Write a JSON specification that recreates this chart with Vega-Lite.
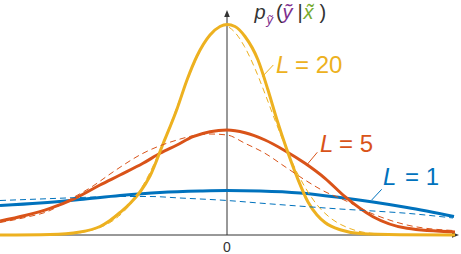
{
  "$schema": "https://vega.github.io/schema/vega-lite/v6.json",
  "width": 461,
  "height": 254,
  "autosize": {"type": "none"},
  "padding": 0,
  "background": "white",
  "config": {"view": {"stroke": null}},
  "datasets": {
    "curves": [
      {"series": "1", "kind": "exact", "x": -4.54, "y": 0.1475},
      {"series": "1", "kind": "exact", "x": -3.74, "y": 0.16},
      {"series": "1", "kind": "exact", "x": -2.94, "y": 0.1775},
      {"series": "1", "kind": "exact", "x": -2.14, "y": 0.1975},
      {"series": "1", "kind": "exact", "x": -1.34, "y": 0.2125},
      {"series": "1", "kind": "exact", "x": -0.54, "y": 0.22},
      {"series": "1", "kind": "exact", "x": 0, "y": 0.2225},
      {"series": "1", "kind": "exact", "x": 0.66, "y": 0.22},
      {"series": "1", "kind": "exact", "x": 1.46, "y": 0.21},
      {"series": "1", "kind": "exact", "x": 2.26, "y": 0.1875},
      {"series": "1", "kind": "exact", "x": 2.92, "y": 0.165},
      {"series": "1", "kind": "exact", "x": 3.6, "y": 0.1375},
      {"series": "1", "kind": "exact", "x": 4.54, "y": 0.0925},
      {"series": "5", "kind": "exact", "x": -4.54, "y": 0.07},
      {"series": "5", "kind": "exact", "x": -4.04, "y": 0.0975},
      {"series": "5", "kind": "exact", "x": -3.54, "y": 0.1335},
      {"series": "5", "kind": "exact", "x": -3.04, "y": 0.1835},
      {"series": "5", "kind": "exact", "x": -2.54, "y": 0.25},
      {"series": "5", "kind": "exact", "x": -2.14, "y": 0.3},
      {"series": "5", "kind": "exact", "x": -1.68, "y": 0.3585},
      {"series": "5", "kind": "exact", "x": -1.34, "y": 0.4085},
      {"series": "5", "kind": "exact", "x": -1.0, "y": 0.45},
      {"series": "5", "kind": "exact", "x": -0.68, "y": 0.4915},
      {"series": "5", "kind": "exact", "x": -0.34, "y": 0.5165},
      {"series": "5", "kind": "exact", "x": 0, "y": 0.525},
      {"series": "5", "kind": "exact", "x": 0.36, "y": 0.5115},
      {"series": "5", "kind": "exact", "x": 0.76, "y": 0.475},
      {"series": "5", "kind": "exact", "x": 1.16, "y": 0.4215},
      {"series": "5", "kind": "exact", "x": 1.56, "y": 0.3585},
      {"series": "5", "kind": "exact", "x": 1.96, "y": 0.2835},
      {"series": "5", "kind": "exact", "x": 2.36, "y": 0.1915},
      {"series": "5", "kind": "exact", "x": 2.92, "y": 0.0915},
      {"series": "5", "kind": "exact", "x": 3.6, "y": 0.0335},
      {"series": "5", "kind": "exact", "x": 4.56, "y": 0.015},
      {"series": "20", "kind": "exact", "x": -4.54, "y": 0},
      {"series": "20", "kind": "exact", "x": -3.54, "y": 0.0025},
      {"series": "20", "kind": "exact", "x": -2.94, "y": 0.015},
      {"series": "20", "kind": "exact", "x": -2.54, "y": 0.0425},
      {"series": "20", "kind": "exact", "x": -2.34, "y": 0.0725},
      {"series": "20", "kind": "exact", "x": -2.14, "y": 0.1125},
      {"series": "20", "kind": "exact", "x": -1.94, "y": 0.1575},
      {"series": "20", "kind": "exact", "x": -1.74, "y": 0.215},
      {"series": "20", "kind": "exact", "x": -1.54, "y": 0.295},
      {"series": "20", "kind": "exact", "x": -1.28, "y": 0.455},
      {"series": "20", "kind": "exact", "x": -1.0, "y": 0.63},
      {"series": "20", "kind": "exact", "x": -0.8, "y": 0.775},
      {"series": "20", "kind": "exact", "x": -0.6, "y": 0.895},
      {"series": "20", "kind": "exact", "x": -0.34, "y": 1.0},
      {"series": "20", "kind": "exact", "x": -0.14, "y": 1.0425},
      {"series": "20", "kind": "exact", "x": 0, "y": 1.0525},
      {"series": "20", "kind": "exact", "x": 0.16, "y": 1.0425},
      {"series": "20", "kind": "exact", "x": 0.36, "y": 0.9925},
      {"series": "20", "kind": "exact", "x": 0.62, "y": 0.875},
      {"series": "20", "kind": "exact", "x": 0.82, "y": 0.725},
      {"series": "20", "kind": "exact", "x": 1.0, "y": 0.575},
      {"series": "20", "kind": "exact", "x": 1.2, "y": 0.425},
      {"series": "20", "kind": "exact", "x": 1.4, "y": 0.29},
      {"series": "20", "kind": "exact", "x": 1.62, "y": 0.165},
      {"series": "20", "kind": "exact", "x": 1.8, "y": 0.1},
      {"series": "20", "kind": "exact", "x": 1.96, "y": 0.0625},
      {"series": "20", "kind": "exact", "x": 2.28, "y": 0.025},
      {"series": "20", "kind": "exact", "x": 2.66, "y": 0.0075},
      {"series": "20", "kind": "exact", "x": 3.46, "y": 0.0015},
      {"series": "20", "kind": "exact", "x": 4.56, "y": 0},
      {"series": "1", "kind": "approx", "x": -4.54, "y": 0.1725},
      {"series": "1", "kind": "approx", "x": -3.74, "y": 0.18},
      {"series": "1", "kind": "approx", "x": -2.94, "y": 0.1875},
      {"series": "1", "kind": "approx", "x": -2.14, "y": 0.1925},
      {"series": "1", "kind": "approx", "x": -1.54, "y": 0.1925},
      {"series": "1", "kind": "approx", "x": -0.94, "y": 0.185},
      {"series": "1", "kind": "approx", "x": 0, "y": 0.1725},
      {"series": "1", "kind": "approx", "x": 0.76, "y": 0.1575},
      {"series": "1", "kind": "approx", "x": 1.56, "y": 0.1425},
      {"series": "1", "kind": "approx", "x": 2.26, "y": 0.13},
      {"series": "1", "kind": "approx", "x": 2.92, "y": 0.12},
      {"series": "1", "kind": "approx", "x": 3.6, "y": 0.1085},
      {"series": "1", "kind": "approx", "x": 4.52, "y": 0.085},
      {"series": "5", "kind": "approx", "x": -4.54, "y": 0.0625},
      {"series": "5", "kind": "approx", "x": -4.04, "y": 0.0875},
      {"series": "5", "kind": "approx", "x": -3.54, "y": 0.1225},
      {"series": "5", "kind": "approx", "x": -3.2, "y": 0.17},
      {"series": "5", "kind": "approx", "x": -2.68, "y": 0.245},
      {"series": "5", "kind": "approx", "x": -2.28, "y": 0.315},
      {"series": "5", "kind": "approx", "x": -1.68, "y": 0.4085},
      {"series": "5", "kind": "approx", "x": -1.0, "y": 0.475},
      {"series": "5", "kind": "approx", "x": -0.6, "y": 0.5},
      {"series": "5", "kind": "approx", "x": -0.34, "y": 0.505},
      {"series": "5", "kind": "approx", "x": 0, "y": 0.5},
      {"series": "5", "kind": "approx", "x": 0.36, "y": 0.4585},
      {"series": "5", "kind": "approx", "x": 0.76, "y": 0.4085},
      {"series": "5", "kind": "approx", "x": 1.16, "y": 0.3415},
      {"series": "5", "kind": "approx", "x": 1.56, "y": 0.275},
      {"series": "5", "kind": "approx", "x": 1.96, "y": 0.2165},
      {"series": "5", "kind": "approx", "x": 2.3, "y": 0.18},
      {"series": "5", "kind": "approx", "x": 2.92, "y": 0.105},
      {"series": "5", "kind": "approx", "x": 3.6, "y": 0.05},
      {"series": "5", "kind": "approx", "x": 4.52, "y": 0.0225},
      {"series": "20", "kind": "approx", "x": -4.54, "y": 0},
      {"series": "20", "kind": "approx", "x": -3.31, "y": 0.003},
      {"series": "20", "kind": "approx", "x": -2.59, "y": 0.033},
      {"series": "20", "kind": "approx", "x": -2.17, "y": 0.093},
      {"series": "20", "kind": "approx", "x": -1.96, "y": 0.145},
      {"series": "20", "kind": "approx", "x": -1.75, "y": 0.219},
      {"series": "20", "kind": "approx", "x": -1.54, "y": 0.313},
      {"series": "20", "kind": "approx", "x": -1.33, "y": 0.43},
      {"series": "20", "kind": "approx", "x": -1.12, "y": 0.561},
      {"series": "20", "kind": "approx", "x": -0.91, "y": 0.7},
      {"series": "20", "kind": "approx", "x": -0.7, "y": 0.832},
      {"series": "20", "kind": "approx", "x": -0.49, "y": 0.942},
      {"series": "20", "kind": "approx", "x": -0.28, "y": 1.018},
      {"series": "20", "kind": "approx", "x": -0.07, "y": 1.0475},
      {"series": "20", "kind": "approx", "x": 0.14, "y": 1.018},
      {"series": "20", "kind": "approx", "x": 0.35, "y": 0.942},
      {"series": "20", "kind": "approx", "x": 0.56, "y": 0.832},
      {"series": "20", "kind": "approx", "x": 0.77, "y": 0.7},
      {"series": "20", "kind": "approx", "x": 0.98, "y": 0.561},
      {"series": "20", "kind": "approx", "x": 1.19, "y": 0.43},
      {"series": "20", "kind": "approx", "x": 1.4, "y": 0.313},
      {"series": "20", "kind": "approx", "x": 1.61, "y": 0.219},
      {"series": "20", "kind": "approx", "x": 1.82, "y": 0.145},
      {"series": "20", "kind": "approx", "x": 2.03, "y": 0.093},
      {"series": "20", "kind": "approx", "x": 2.45, "y": 0.033},
      {"series": "20", "kind": "approx", "x": 2.87, "y": 0.009},
      {"series": "20", "kind": "approx", "x": 3.49, "y": 0.001},
      {"series": "20", "kind": "approx", "x": 4.52, "y": 0}
    ],
    "rules": [
      {"series": "axis", "x": -4.54, "y": 0, "x2": 4.5, "y2": 0},
      {"series": "axis", "x": 0, "y": 0, "x2": 0, "y2": 1.09},
      {"series": "20", "x": 0.706, "y": 0.7915, "x2": 0.926, "y2": 0.85},
      {"series": "5", "x": 1.594, "y": 0.35, "x2": 1.806, "y2": 0.4135},
      {"series": "1", "x": 2.894, "y": 0.175, "x2": 3.094, "y2": 0.2285}
    ],
    "arrows": [
      {"series": "axis", "dir": "right", "x": 4.64, "y": 0},
      {"series": "axis", "dir": "up", "x": 0, "y": 1.125}
    ],
    "labels": [
      {"series": "20", "part": "L", "t": "L", "x": 0.98, "y": 0.81},
      {"series": "20", "part": "eq", "t": "= 20", "x": 1.36, "y": 0.81},
      {"series": "5", "part": "L", "t": "L", "x": 1.86, "y": 0.4175},
      {"series": "5", "part": "eq", "t": "= 5", "x": 2.24, "y": 0.4175},
      {"series": "1", "part": "L", "t": "L", "x": 3.12, "y": 0.25},
      {"series": "1", "part": "eq", "t": "= 1", "x": 3.56, "y": 0.25}
    ],
    "math": [
      {"series": "axis", "part": "it", "t": "p", "x": 0.55, "y": 1.08},
      {"series": "ytilde", "part": "sub", "t": "ỹ", "x": 0.79, "y": 1.055},
      {"series": "axis", "part": "up", "t": "(", "x": 0.98, "y": 1.08},
      {"series": "ytilde", "part": "it", "t": "ỹ", "x": 1.11, "y": 1.08},
      {"series": "axis", "part": "up", "t": "|", "x": 1.41, "y": 1.08},
      {"series": "xtilde", "part": "it", "t": "x̃", "x": 1.53, "y": 1.08},
      {"series": "axis", "part": "up", "t": ")", "x": 1.85, "y": 1.08},
      {"series": "axis", "part": "tick", "t": "0", "x": 0, "y": -0.065}
    ]
  },
  "encoding": {
    "x": {"field": "x", "type": "quantitative", "scale": {"domain": [-4.54, 4.68], "nice": false, "zero": false}, "axis": null},
    "y": {"field": "y", "type": "quantitative", "scale": {"domain": [-0.095, 1.175], "nice": false, "zero": false}, "axis": null},
    "color": {"field": "series", "type": "nominal", "scale": {"domain": ["1", "5", "20", "axis", "ytilde", "xtilde"], "range": ["#0072BD", "#D95319", "#EDB120", "#333333", "#7E2F8E", "#77AC30"]}, "legend": null}
  },
  "layer": [
    {
      "data": {"name": "rules"},
      "mark": {"type": "rule", "strokeWidth": 1},
      "encoding": {"x2": {"field": "x2"}, "y2": {"field": "y2"}}
    },
    {
      "data": {"name": "arrows"},
      "mark": {"type": "point", "filled": true, "size": 196, "opacity": 1},
      "encoding": {"shape": {"field": "dir", "type": "nominal", "scale": {"domain": ["right", "up"], "range": ["M0,0L-1,-0.4L-1,0.4Z", "M0,0L-0.4,1L0.4,1Z"]}, "legend": null}}
    },
    {
      "data": {"name": "curves"},
      "transform": [{"filter": "datum.kind === 'exact'"}],
      "mark": {"type": "line", "strokeWidth": 3, "interpolate": "monotone"},
      "encoding": {"detail": {"field": "series"}}
    },
    {
      "data": {"name": "curves"},
      "transform": [{"filter": "datum.kind === 'approx'"}],
      "mark": {"type": "line", "strokeWidth": 1, "strokeDash": [6, 4], "interpolate": "monotone"},
      "encoding": {"detail": {"field": "series"}}
    },
    {
      "data": {"name": "labels"},
      "transform": [{"filter": "datum.part === 'L'"}],
      "mark": {"type": "text", "align": "left", "baseline": "alphabetic", "font": "Liberation Sans", "fontStyle": "italic", "fontSize": 24},
      "encoding": {"text": {"field": "t"}}
    },
    {
      "data": {"name": "labels"},
      "transform": [{"filter": "datum.part === 'eq'"}],
      "mark": {"type": "text", "align": "left", "baseline": "alphabetic", "font": "Liberation Sans", "fontSize": 24},
      "encoding": {"text": {"field": "t"}}
    },
    {
      "data": {"name": "math"},
      "transform": [{"filter": "datum.part === 'it'"}],
      "mark": {"type": "text", "align": "left", "baseline": "alphabetic", "font": "Liberation Sans", "fontStyle": "italic", "fontSize": 20},
      "encoding": {"text": {"field": "t"}}
    },
    {
      "data": {"name": "math"},
      "transform": [{"filter": "datum.part === 'sub'"}],
      "mark": {"type": "text", "align": "left", "baseline": "alphabetic", "font": "Liberation Sans", "fontStyle": "italic", "fontSize": 13},
      "encoding": {"text": {"field": "t"}}
    },
    {
      "data": {"name": "math"},
      "transform": [{"filter": "datum.part === 'up'"}],
      "mark": {"type": "text", "align": "left", "baseline": "alphabetic", "font": "Liberation Sans", "fontSize": 20},
      "encoding": {"text": {"field": "t"}}
    },
    {
      "data": {"name": "math"},
      "transform": [{"filter": "datum.part === 'tick'"}],
      "mark": {"type": "text", "align": "center", "baseline": "middle", "font": "Liberation Sans", "fontSize": 14},
      "encoding": {"text": {"field": "t"}}
    }
  ]
}
